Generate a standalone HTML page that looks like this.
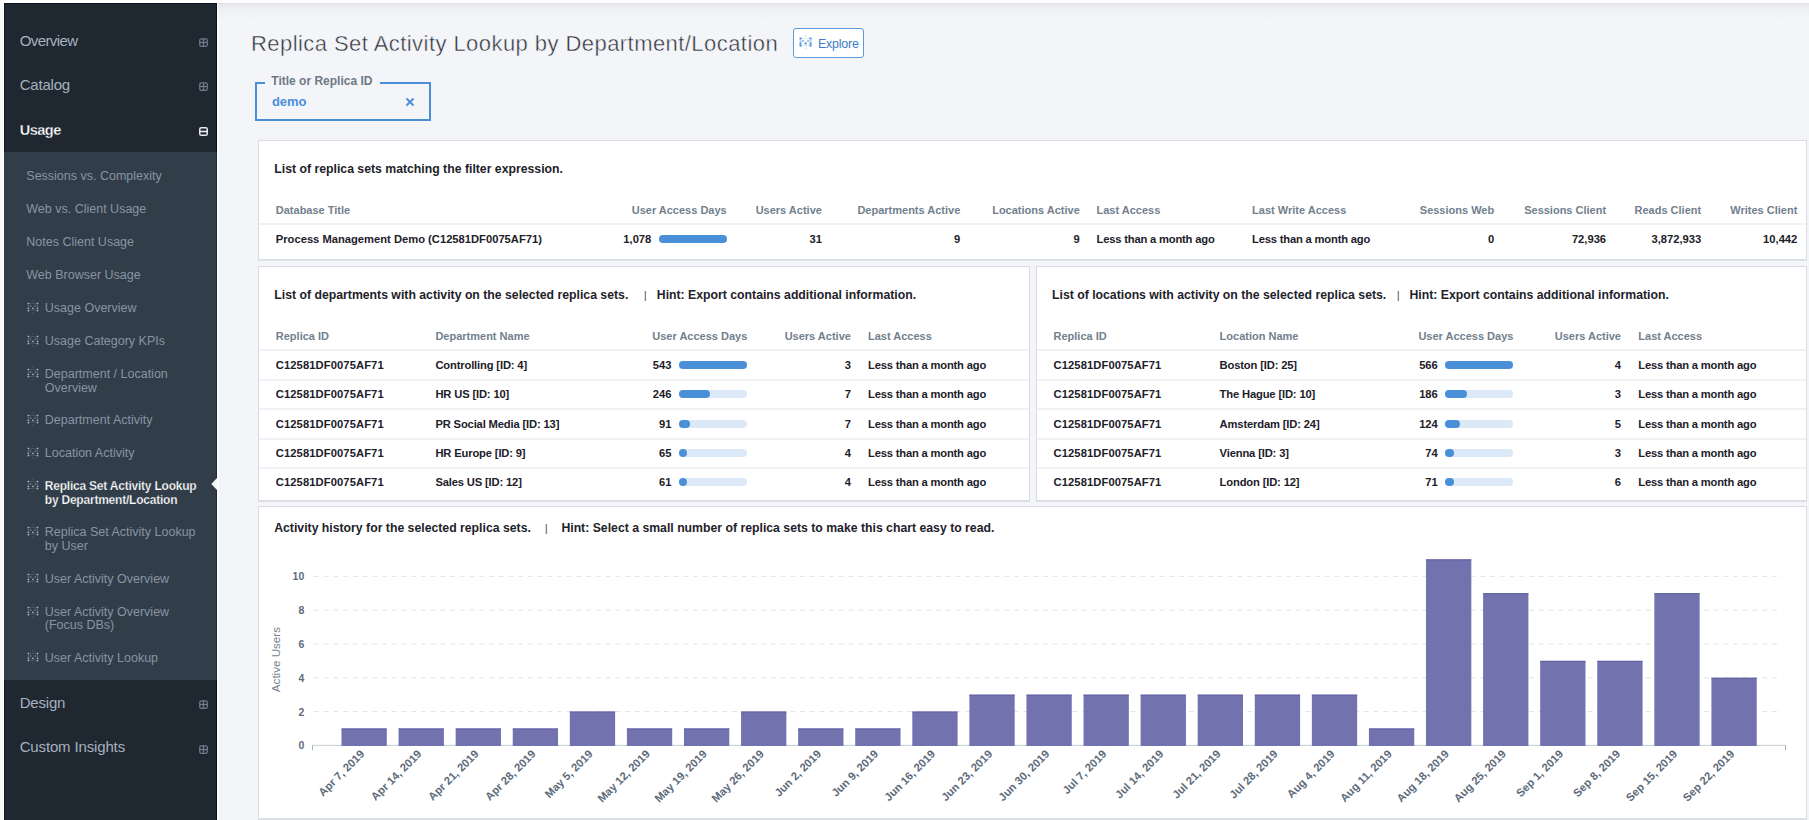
<!DOCTYPE html>
<html><head><meta charset="utf-8"><title>Replica Set Activity Lookup by Department/Location</title>
<style>
html,body{margin:0;padding:0;}
body{width:1809px;height:820px;overflow:hidden;position:relative;background:#fff;font-family:"Liberation Sans", Arial, sans-serif;}
.r{position:absolute;}
.t{position:absolute;white-space:nowrap;}
</style></head><body>
<div class="r" style="left:0px;top:0px;width:3px;height:820px;background:#f9f9f9"></div>
<div class="r" style="left:217px;top:3px;width:1592px;height:817px;background:#f4f5f9"></div>
<div class="r" style="left:217px;top:3px;width:2px;height:817px;background:#fbfcfd"></div>
<div class="r" style="left:218px;top:3px;width:1591px;height:18px;background:linear-gradient(#dcdee1,#e9ebef 12%,#eff1f5 45%,#f4f5f9)"></div>
<div class="r" style="left:4px;top:3px;width:213px;height:817px;background:#1f2731"></div>
<div class="r" style="left:4px;top:3px;width:213px;height:1px;background:#0c1220"></div>
<div class="r" style="left:216px;top:3px;width:1px;height:817px;background:#0b111c"></div>
<div class="r" style="left:4px;top:3px;width:1px;height:817px;background:#151c26"></div>
<div class="r" style="left:4px;top:152px;width:212px;height:528px;background:#323d4a"></div>
<div class="r" style="left:216px;top:152px;width:1px;height:528px;background:#222c38"></div>
<div class="t" style="top:33.00px;font-size:15px;line-height:15px;color:#a6b1be;letter-spacing:-0.6px;left:19.70px;">Overview</div>
<svg class="r" style="left:199px;top:38px" width="9" height="9" viewBox="0 0 9 9"><rect x="0.75" y="0.75" width="7.5" height="7.5" rx="1.6" fill="none" stroke="#6f7c8b" stroke-width="1.25"/><line x1="0.8" y1="4.5" x2="8.2" y2="4.5" stroke="#6f7c8b" stroke-width="1.3"/><line x1="4.5" y1="0.8" x2="4.5" y2="8.2" stroke="#6f7c8b" stroke-width="1.3"/></svg>
<div class="t" style="top:77.00px;font-size:15px;line-height:15px;color:#a6b1be;letter-spacing:-0.2px;left:19.70px;">Catalog</div>
<svg class="r" style="left:199px;top:82px" width="9" height="9" viewBox="0 0 9 9"><rect x="0.75" y="0.75" width="7.5" height="7.5" rx="1.6" fill="none" stroke="#6f7c8b" stroke-width="1.25"/><line x1="0.8" y1="4.5" x2="8.2" y2="4.5" stroke="#6f7c8b" stroke-width="1.3"/><line x1="4.5" y1="0.8" x2="4.5" y2="8.2" stroke="#6f7c8b" stroke-width="1.3"/></svg>
<div class="t" style="top:123.00px;font-size:14.5px;line-height:14.5px;font-weight:700;color:#ffffff;letter-spacing:-0.5px;left:19.70px;-webkit-text-stroke:0.3px #1f2731;">Usage</div>
<svg class="r" style="left:199px;top:127px" width="9" height="9" viewBox="0 0 9 9"><rect x="0.75" y="0.75" width="7.5" height="7.5" rx="1.6" fill="none" stroke="#e8ecf0" stroke-width="1.5"/><line x1="0.8" y1="4.5" x2="8.2" y2="4.5" stroke="#e8ecf0" stroke-width="1.6"/></svg>
<div class="t" style="top:695.00px;font-size:15px;line-height:15px;color:#a6b1be;letter-spacing:-0.2px;left:19.70px;">Design</div>
<svg class="r" style="left:199px;top:700px" width="9" height="9" viewBox="0 0 9 9"><rect x="0.75" y="0.75" width="7.5" height="7.5" rx="1.6" fill="none" stroke="#6f7c8b" stroke-width="1.25"/><line x1="0.8" y1="4.5" x2="8.2" y2="4.5" stroke="#6f7c8b" stroke-width="1.3"/><line x1="4.5" y1="0.8" x2="4.5" y2="8.2" stroke="#6f7c8b" stroke-width="1.3"/></svg>
<div class="t" style="top:739.00px;font-size:15px;line-height:15px;color:#a6b1be;letter-spacing:-0.15px;left:19.70px;">Custom Insights</div>
<svg class="r" style="left:199px;top:745px" width="9" height="9" viewBox="0 0 9 9"><rect x="0.75" y="0.75" width="7.5" height="7.5" rx="1.6" fill="none" stroke="#6f7c8b" stroke-width="1.25"/><line x1="0.8" y1="4.5" x2="8.2" y2="4.5" stroke="#6f7c8b" stroke-width="1.3"/><line x1="4.5" y1="0.8" x2="4.5" y2="8.2" stroke="#6f7c8b" stroke-width="1.3"/></svg>
<div class="t" style="top:170.00px;font-size:12.5px;line-height:12.5px;color:#8794a3;left:26.30px;">Sessions vs. Complexity</div>
<div class="t" style="top:203.00px;font-size:12.5px;line-height:12.5px;color:#8794a3;left:26.30px;">Web vs. Client Usage</div>
<div class="t" style="top:236.00px;font-size:12.5px;line-height:12.5px;color:#8794a3;left:26.30px;">Notes Client Usage</div>
<div class="t" style="top:269.00px;font-size:12.5px;line-height:12.5px;color:#8794a3;left:26.30px;">Web Browser Usage</div>
<div class="t" style="top:302.00px;font-size:12.5px;line-height:12.5px;color:#8794a3;left:44.80px;">Usage Overview</div>
<svg class="r" style="left:27px;top:300px" width="12.0" height="14" viewBox="0 0 12.0 14"><g fill="#a9bbcf"><rect x="0.65" y="2.75" width="1.5" height="1.5" opacity="1"/><rect x="0.65" y="7.65" width="1.5" height="1.5" opacity="1"/><rect x="0.65" y="9.85" width="1.5" height="1.5" opacity="1"/><rect x="0.80" y="5.40" width="1.2" height="1.2" opacity="0.55"/><rect x="9.75" y="2.75" width="1.5" height="1.5" opacity="1"/><rect x="9.75" y="7.65" width="1.5" height="1.5" opacity="1"/><rect x="9.75" y="9.85" width="1.5" height="1.5" opacity="1"/><rect x="9.90" y="5.40" width="1.2" height="1.2" opacity="0.55"/><rect x="2.90" y="5.30" width="1.4" height="1.4" opacity="0.6"/><rect x="7.60" y="5.30" width="1.4" height="1.4" opacity="0.6"/><rect x="5.20" y="7.60" width="1.6" height="1.6" opacity="0.9"/><rect x="5.45" y="0.35" width="1.1" height="1.1" opacity="0.3"/><rect x="5.45" y="12.45" width="1.1" height="1.1" opacity="0.3"/><rect x="2.20" y="3.2" width="7.50" height="0.6" opacity=".3"/><rect x="2.20" y="10.3" width="7.50" height="0.6" opacity=".3"/></g></svg>
<div class="t" style="top:335.00px;font-size:12.5px;line-height:12.5px;color:#8794a3;left:44.80px;">Usage Category KPIs</div>
<svg class="r" style="left:27px;top:333px" width="12.0" height="14" viewBox="0 0 12.0 14"><g fill="#a9bbcf"><rect x="0.65" y="2.75" width="1.5" height="1.5" opacity="1"/><rect x="0.65" y="7.65" width="1.5" height="1.5" opacity="1"/><rect x="0.65" y="9.85" width="1.5" height="1.5" opacity="1"/><rect x="0.80" y="5.40" width="1.2" height="1.2" opacity="0.55"/><rect x="9.75" y="2.75" width="1.5" height="1.5" opacity="1"/><rect x="9.75" y="7.65" width="1.5" height="1.5" opacity="1"/><rect x="9.75" y="9.85" width="1.5" height="1.5" opacity="1"/><rect x="9.90" y="5.40" width="1.2" height="1.2" opacity="0.55"/><rect x="2.90" y="5.30" width="1.4" height="1.4" opacity="0.6"/><rect x="7.60" y="5.30" width="1.4" height="1.4" opacity="0.6"/><rect x="5.20" y="7.60" width="1.6" height="1.6" opacity="0.9"/><rect x="5.45" y="0.35" width="1.1" height="1.1" opacity="0.3"/><rect x="5.45" y="12.45" width="1.1" height="1.1" opacity="0.3"/><rect x="2.20" y="3.2" width="7.50" height="0.6" opacity=".3"/><rect x="2.20" y="10.3" width="7.50" height="0.6" opacity=".3"/></g></svg>
<div class="t" style="top:368.00px;font-size:12.5px;line-height:12.5px;color:#8794a3;left:44.80px;">Department / Location</div>
<div class="t" style="top:382.00px;font-size:12.5px;line-height:12.5px;color:#8794a3;left:44.80px;">Overview</div>
<svg class="r" style="left:27px;top:366px" width="12.0" height="14" viewBox="0 0 12.0 14"><g fill="#a9bbcf"><rect x="0.65" y="2.75" width="1.5" height="1.5" opacity="1"/><rect x="0.65" y="7.65" width="1.5" height="1.5" opacity="1"/><rect x="0.65" y="9.85" width="1.5" height="1.5" opacity="1"/><rect x="0.80" y="5.40" width="1.2" height="1.2" opacity="0.55"/><rect x="9.75" y="2.75" width="1.5" height="1.5" opacity="1"/><rect x="9.75" y="7.65" width="1.5" height="1.5" opacity="1"/><rect x="9.75" y="9.85" width="1.5" height="1.5" opacity="1"/><rect x="9.90" y="5.40" width="1.2" height="1.2" opacity="0.55"/><rect x="2.90" y="5.30" width="1.4" height="1.4" opacity="0.6"/><rect x="7.60" y="5.30" width="1.4" height="1.4" opacity="0.6"/><rect x="5.20" y="7.60" width="1.6" height="1.6" opacity="0.9"/><rect x="5.45" y="0.35" width="1.1" height="1.1" opacity="0.3"/><rect x="5.45" y="12.45" width="1.1" height="1.1" opacity="0.3"/><rect x="2.20" y="3.2" width="7.50" height="0.6" opacity=".3"/><rect x="2.20" y="10.3" width="7.50" height="0.6" opacity=".3"/></g></svg>
<div class="t" style="top:414.00px;font-size:12.5px;line-height:12.5px;color:#8794a3;left:44.80px;">Department Activity</div>
<svg class="r" style="left:27px;top:412px" width="12.0" height="14" viewBox="0 0 12.0 14"><g fill="#a9bbcf"><rect x="0.65" y="2.75" width="1.5" height="1.5" opacity="1"/><rect x="0.65" y="7.65" width="1.5" height="1.5" opacity="1"/><rect x="0.65" y="9.85" width="1.5" height="1.5" opacity="1"/><rect x="0.80" y="5.40" width="1.2" height="1.2" opacity="0.55"/><rect x="9.75" y="2.75" width="1.5" height="1.5" opacity="1"/><rect x="9.75" y="7.65" width="1.5" height="1.5" opacity="1"/><rect x="9.75" y="9.85" width="1.5" height="1.5" opacity="1"/><rect x="9.90" y="5.40" width="1.2" height="1.2" opacity="0.55"/><rect x="2.90" y="5.30" width="1.4" height="1.4" opacity="0.6"/><rect x="7.60" y="5.30" width="1.4" height="1.4" opacity="0.6"/><rect x="5.20" y="7.60" width="1.6" height="1.6" opacity="0.9"/><rect x="5.45" y="0.35" width="1.1" height="1.1" opacity="0.3"/><rect x="5.45" y="12.45" width="1.1" height="1.1" opacity="0.3"/><rect x="2.20" y="3.2" width="7.50" height="0.6" opacity=".3"/><rect x="2.20" y="10.3" width="7.50" height="0.6" opacity=".3"/></g></svg>
<div class="t" style="top:447.00px;font-size:12.5px;line-height:12.5px;color:#8794a3;left:44.80px;">Location Activity</div>
<svg class="r" style="left:27px;top:445px" width="12.0" height="14" viewBox="0 0 12.0 14"><g fill="#a9bbcf"><rect x="0.65" y="2.75" width="1.5" height="1.5" opacity="1"/><rect x="0.65" y="7.65" width="1.5" height="1.5" opacity="1"/><rect x="0.65" y="9.85" width="1.5" height="1.5" opacity="1"/><rect x="0.80" y="5.40" width="1.2" height="1.2" opacity="0.55"/><rect x="9.75" y="2.75" width="1.5" height="1.5" opacity="1"/><rect x="9.75" y="7.65" width="1.5" height="1.5" opacity="1"/><rect x="9.75" y="9.85" width="1.5" height="1.5" opacity="1"/><rect x="9.90" y="5.40" width="1.2" height="1.2" opacity="0.55"/><rect x="2.90" y="5.30" width="1.4" height="1.4" opacity="0.6"/><rect x="7.60" y="5.30" width="1.4" height="1.4" opacity="0.6"/><rect x="5.20" y="7.60" width="1.6" height="1.6" opacity="0.9"/><rect x="5.45" y="0.35" width="1.1" height="1.1" opacity="0.3"/><rect x="5.45" y="12.45" width="1.1" height="1.1" opacity="0.3"/><rect x="2.20" y="3.2" width="7.50" height="0.6" opacity=".3"/><rect x="2.20" y="10.3" width="7.50" height="0.6" opacity=".3"/></g></svg>
<div class="t" style="top:480.00px;font-size:12px;line-height:12px;font-weight:700;color:#ffffff;letter-spacing:-0.22px;left:44.80px;-webkit-text-stroke:0.25px #323d4a;">Replica Set Activity Lookup</div>
<div class="t" style="top:494.00px;font-size:12px;line-height:12px;font-weight:700;color:#ffffff;letter-spacing:-0.22px;left:44.80px;-webkit-text-stroke:0.25px #323d4a;">by Department/Location</div>
<svg class="r" style="left:27px;top:478px" width="12.0" height="14" viewBox="0 0 12.0 14"><g fill="#a9bbcf"><rect x="0.65" y="2.75" width="1.5" height="1.5" opacity="1"/><rect x="0.65" y="7.65" width="1.5" height="1.5" opacity="1"/><rect x="0.65" y="9.85" width="1.5" height="1.5" opacity="1"/><rect x="0.80" y="5.40" width="1.2" height="1.2" opacity="0.55"/><rect x="9.75" y="2.75" width="1.5" height="1.5" opacity="1"/><rect x="9.75" y="7.65" width="1.5" height="1.5" opacity="1"/><rect x="9.75" y="9.85" width="1.5" height="1.5" opacity="1"/><rect x="9.90" y="5.40" width="1.2" height="1.2" opacity="0.55"/><rect x="2.90" y="5.30" width="1.4" height="1.4" opacity="0.6"/><rect x="7.60" y="5.30" width="1.4" height="1.4" opacity="0.6"/><rect x="5.20" y="7.60" width="1.6" height="1.6" opacity="0.9"/><rect x="5.45" y="0.35" width="1.1" height="1.1" opacity="0.3"/><rect x="5.45" y="12.45" width="1.1" height="1.1" opacity="0.3"/><rect x="2.20" y="3.2" width="7.50" height="0.6" opacity=".3"/><rect x="2.20" y="10.3" width="7.50" height="0.6" opacity=".3"/></g></svg>
<div class="t" style="top:526.00px;font-size:12.5px;line-height:12.5px;color:#8794a3;left:44.80px;">Replica Set Activity Lookup</div>
<div class="t" style="top:540.00px;font-size:12.5px;line-height:12.5px;color:#8794a3;left:44.80px;">by User</div>
<svg class="r" style="left:27px;top:524px" width="12.0" height="14" viewBox="0 0 12.0 14"><g fill="#a9bbcf"><rect x="0.65" y="2.75" width="1.5" height="1.5" opacity="1"/><rect x="0.65" y="7.65" width="1.5" height="1.5" opacity="1"/><rect x="0.65" y="9.85" width="1.5" height="1.5" opacity="1"/><rect x="0.80" y="5.40" width="1.2" height="1.2" opacity="0.55"/><rect x="9.75" y="2.75" width="1.5" height="1.5" opacity="1"/><rect x="9.75" y="7.65" width="1.5" height="1.5" opacity="1"/><rect x="9.75" y="9.85" width="1.5" height="1.5" opacity="1"/><rect x="9.90" y="5.40" width="1.2" height="1.2" opacity="0.55"/><rect x="2.90" y="5.30" width="1.4" height="1.4" opacity="0.6"/><rect x="7.60" y="5.30" width="1.4" height="1.4" opacity="0.6"/><rect x="5.20" y="7.60" width="1.6" height="1.6" opacity="0.9"/><rect x="5.45" y="0.35" width="1.1" height="1.1" opacity="0.3"/><rect x="5.45" y="12.45" width="1.1" height="1.1" opacity="0.3"/><rect x="2.20" y="3.2" width="7.50" height="0.6" opacity=".3"/><rect x="2.20" y="10.3" width="7.50" height="0.6" opacity=".3"/></g></svg>
<div class="t" style="top:573.00px;font-size:12.5px;line-height:12.5px;color:#8794a3;left:44.80px;">User Activity Overview</div>
<svg class="r" style="left:27px;top:571px" width="12.0" height="14" viewBox="0 0 12.0 14"><g fill="#a9bbcf"><rect x="0.65" y="2.75" width="1.5" height="1.5" opacity="1"/><rect x="0.65" y="7.65" width="1.5" height="1.5" opacity="1"/><rect x="0.65" y="9.85" width="1.5" height="1.5" opacity="1"/><rect x="0.80" y="5.40" width="1.2" height="1.2" opacity="0.55"/><rect x="9.75" y="2.75" width="1.5" height="1.5" opacity="1"/><rect x="9.75" y="7.65" width="1.5" height="1.5" opacity="1"/><rect x="9.75" y="9.85" width="1.5" height="1.5" opacity="1"/><rect x="9.90" y="5.40" width="1.2" height="1.2" opacity="0.55"/><rect x="2.90" y="5.30" width="1.4" height="1.4" opacity="0.6"/><rect x="7.60" y="5.30" width="1.4" height="1.4" opacity="0.6"/><rect x="5.20" y="7.60" width="1.6" height="1.6" opacity="0.9"/><rect x="5.45" y="0.35" width="1.1" height="1.1" opacity="0.3"/><rect x="5.45" y="12.45" width="1.1" height="1.1" opacity="0.3"/><rect x="2.20" y="3.2" width="7.50" height="0.6" opacity=".3"/><rect x="2.20" y="10.3" width="7.50" height="0.6" opacity=".3"/></g></svg>
<div class="t" style="top:606.00px;font-size:12.5px;line-height:12.5px;color:#8794a3;left:44.80px;">User Activity Overview</div>
<div class="t" style="top:619.00px;font-size:12.5px;line-height:12.5px;color:#8794a3;left:44.80px;">(Focus DBs)</div>
<svg class="r" style="left:27px;top:604px" width="12.0" height="14" viewBox="0 0 12.0 14"><g fill="#a9bbcf"><rect x="0.65" y="2.75" width="1.5" height="1.5" opacity="1"/><rect x="0.65" y="7.65" width="1.5" height="1.5" opacity="1"/><rect x="0.65" y="9.85" width="1.5" height="1.5" opacity="1"/><rect x="0.80" y="5.40" width="1.2" height="1.2" opacity="0.55"/><rect x="9.75" y="2.75" width="1.5" height="1.5" opacity="1"/><rect x="9.75" y="7.65" width="1.5" height="1.5" opacity="1"/><rect x="9.75" y="9.85" width="1.5" height="1.5" opacity="1"/><rect x="9.90" y="5.40" width="1.2" height="1.2" opacity="0.55"/><rect x="2.90" y="5.30" width="1.4" height="1.4" opacity="0.6"/><rect x="7.60" y="5.30" width="1.4" height="1.4" opacity="0.6"/><rect x="5.20" y="7.60" width="1.6" height="1.6" opacity="0.9"/><rect x="5.45" y="0.35" width="1.1" height="1.1" opacity="0.3"/><rect x="5.45" y="12.45" width="1.1" height="1.1" opacity="0.3"/><rect x="2.20" y="3.2" width="7.50" height="0.6" opacity=".3"/><rect x="2.20" y="10.3" width="7.50" height="0.6" opacity=".3"/></g></svg>
<div class="t" style="top:652.00px;font-size:12.5px;line-height:12.5px;color:#8794a3;left:44.80px;">User Activity Lookup</div>
<svg class="r" style="left:27px;top:650px" width="12.0" height="14" viewBox="0 0 12.0 14"><g fill="#a9bbcf"><rect x="0.65" y="2.75" width="1.5" height="1.5" opacity="1"/><rect x="0.65" y="7.65" width="1.5" height="1.5" opacity="1"/><rect x="0.65" y="9.85" width="1.5" height="1.5" opacity="1"/><rect x="0.80" y="5.40" width="1.2" height="1.2" opacity="0.55"/><rect x="9.75" y="2.75" width="1.5" height="1.5" opacity="1"/><rect x="9.75" y="7.65" width="1.5" height="1.5" opacity="1"/><rect x="9.75" y="9.85" width="1.5" height="1.5" opacity="1"/><rect x="9.90" y="5.40" width="1.2" height="1.2" opacity="0.55"/><rect x="2.90" y="5.30" width="1.4" height="1.4" opacity="0.6"/><rect x="7.60" y="5.30" width="1.4" height="1.4" opacity="0.6"/><rect x="5.20" y="7.60" width="1.6" height="1.6" opacity="0.9"/><rect x="5.45" y="0.35" width="1.1" height="1.1" opacity="0.3"/><rect x="5.45" y="12.45" width="1.1" height="1.1" opacity="0.3"/><rect x="2.20" y="3.2" width="7.50" height="0.6" opacity=".3"/><rect x="2.20" y="10.3" width="7.50" height="0.6" opacity=".3"/></g></svg>
<svg class="r" style="left:211px;top:478px" width="6" height="12" viewBox="0 0 6 12"><path d="M6 0 L0.3 6 L6 12 Z" fill="#f7f8fa"/></svg>
<div class="t" style="top:33.00px;font-size:22px;line-height:22px;color:#2e3239;letter-spacing:0.44px;left:251.00px;-webkit-text-stroke:0.45px #f4f5f9;">Replica Set Activity Lookup by Department/Location</div>
<div class="r" style="left:793px;top:28px;width:71px;height:30px;background:#fff;border:1px solid #5e9bd6;border-radius:3px;box-sizing:border-box"></div>
<svg class="r" style="left:799px;top:35px" width="13.2" height="14" viewBox="0 0 13.2 14"><g fill="#4a8fd8"><rect x="0.53" y="2.49" width="2.0250000000000004" height="2.0250000000000004" opacity="1"/><rect x="0.53" y="7.39" width="2.0250000000000004" height="2.0250000000000004" opacity="1"/><rect x="0.53" y="9.59" width="2.0250000000000004" height="2.0250000000000004" opacity="1"/><rect x="0.73" y="5.19" width="1.62" height="1.62" opacity="0.55"/><rect x="10.54" y="2.49" width="2.0250000000000004" height="2.0250000000000004" opacity="1"/><rect x="10.54" y="7.39" width="2.0250000000000004" height="2.0250000000000004" opacity="1"/><rect x="10.54" y="9.59" width="2.0250000000000004" height="2.0250000000000004" opacity="1"/><rect x="10.74" y="5.19" width="1.62" height="1.62" opacity="0.55"/><rect x="3.02" y="5.05" width="1.89" height="1.89" opacity="0.6"/><rect x="8.19" y="5.05" width="1.89" height="1.89" opacity="0.6"/><rect x="5.52" y="7.32" width="2.16" height="2.16" opacity="0.9"/><rect x="5.86" y="0.16" width="1.4850000000000003" height="1.4850000000000003" opacity="0.3"/><rect x="5.86" y="12.26" width="1.4850000000000003" height="1.4850000000000003" opacity="0.3"/><rect x="2.42" y="3.2" width="8.25" height="0.6" opacity=".3"/><rect x="2.42" y="10.3" width="8.25" height="0.6" opacity=".3"/></g></svg>
<div class="t" style="top:38.00px;font-size:12.5px;line-height:12.5px;color:#3a7cc6;letter-spacing:-0.25px;left:818.00px;">Explore</div>
<div class="r" style="left:255px;top:82px;width:176px;height:39px;border:2px solid #4a90d9;box-sizing:border-box"></div>
<div class="r" style="left:265px;top:80px;width:115px;height:5px;background:#f4f5f9"></div>
<div class="t" style="top:75.00px;font-size:12px;line-height:12px;font-weight:700;color:#6f7985;left:271.30px;">Title or Replica ID</div>
<div class="t" style="top:95.00px;font-size:13px;line-height:13px;font-weight:700;color:#4a90d9;letter-spacing:-0.1px;left:272.00px;">demo</div>
<svg class="r" style="left:405px;top:97px" width="10" height="10" viewBox="0 0 10 10"><path d="M1.5 1.5 L8.5 8.5 M8.5 1.5 L1.5 8.5" stroke="#4a90d9" stroke-width="2"/></svg>
<div class="r" style="left:258px;top:140px;width:1549px;height:120px;background:#fff;border:1px solid #d9dde2;box-sizing:border-box;box-shadow:0 1px 0 rgba(200,205,212,0.45)"></div>
<div class="r" style="left:258px;top:266px;width:772px;height:235px;background:#fff;border:1px solid #d9dde2;box-sizing:border-box;box-shadow:0 1px 0 rgba(200,205,212,0.45)"></div>
<div class="r" style="left:1036px;top:266px;width:771px;height:235px;background:#fff;border:1px solid #d9dde2;box-sizing:border-box;box-shadow:0 1px 0 rgba(200,205,212,0.45)"></div>
<div class="r" style="left:258px;top:506px;width:1549px;height:313px;background:#fff;border:1px solid #d9dde2;box-sizing:border-box;box-shadow:0 1px 0 rgba(200,205,212,0.45)"></div>
<div class="t" style="top:163.00px;font-size:12.25px;line-height:12.25px;font-weight:700;color:#1e222a;left:274.30px;">List of replica sets matching the filter expression.</div>
<div class="r" style="left:259px;top:223px;width:1547px;height:2px;background:#f1f2f5"></div>
<div class="t" style="top:205.00px;font-size:11px;line-height:11px;font-weight:700;color:#727f8e;left:275.80px;">Database Title</div>
<div class="t" style="top:205.00px;font-size:11px;line-height:11px;font-weight:700;color:#727f8e;left:-73.30px;width:800px;text-align:right;">User Access Days</div>
<div class="t" style="top:205.00px;font-size:11px;line-height:11px;font-weight:700;color:#727f8e;left:21.90px;width:800px;text-align:right;">Users Active</div>
<div class="t" style="top:205.00px;font-size:11px;line-height:11px;font-weight:700;color:#727f8e;left:160.30px;width:800px;text-align:right;">Departments Active</div>
<div class="t" style="top:205.00px;font-size:11px;line-height:11px;font-weight:700;color:#727f8e;left:279.80px;width:800px;text-align:right;">Locations Active</div>
<div class="t" style="top:205.00px;font-size:11px;line-height:11px;font-weight:700;color:#727f8e;left:1096.50px;">Last Access</div>
<div class="t" style="top:205.00px;font-size:11px;line-height:11px;font-weight:700;color:#727f8e;left:1252.10px;">Last Write Access</div>
<div class="t" style="top:205.00px;font-size:11px;line-height:11px;font-weight:700;color:#727f8e;left:694.20px;width:800px;text-align:right;">Sessions Web</div>
<div class="t" style="top:205.00px;font-size:11px;line-height:11px;font-weight:700;color:#727f8e;left:806.10px;width:800px;text-align:right;">Sessions Client</div>
<div class="t" style="top:205.00px;font-size:11px;line-height:11px;font-weight:700;color:#727f8e;left:901.20px;width:800px;text-align:right;">Reads Client</div>
<div class="t" style="top:205.00px;font-size:11px;line-height:11px;font-weight:700;color:#727f8e;left:997.30px;width:800px;text-align:right;">Writes Client</div>
<div class="t" style="top:234.00px;font-size:11.2px;line-height:11.2px;font-weight:700;color:#1c2029;left:275.80px;">Process Management Demo (C12581DF0075AF71)</div>
<div class="t" style="top:234.00px;font-size:11.2px;line-height:11.2px;font-weight:700;color:#1c2029;left:-148.70px;width:800px;text-align:right;">1,078</div>
<div class="r" style="left:659px;top:235px;width:68px;height:8px;background:#dbe8f6;border-radius:4px"></div>
<div class="r" style="left:659px;top:235px;width:68px;height:8px;background:#4a90d9;border-radius:4px"></div>
<div class="t" style="top:234.00px;font-size:11.2px;line-height:11.2px;font-weight:700;color:#1c2029;left:21.90px;width:800px;text-align:right;">31</div>
<div class="t" style="top:234.00px;font-size:11.2px;line-height:11.2px;font-weight:700;color:#1c2029;left:160.30px;width:800px;text-align:right;">9</div>
<div class="t" style="top:234.00px;font-size:11.2px;line-height:11.2px;font-weight:700;color:#1c2029;left:279.80px;width:800px;text-align:right;">9</div>
<div class="t" style="top:234.00px;font-size:11.2px;line-height:11.2px;font-weight:700;color:#1c2029;letter-spacing:-0.18px;left:1096.50px;">Less than a month ago</div>
<div class="t" style="top:234.00px;font-size:11.2px;line-height:11.2px;font-weight:700;color:#1c2029;letter-spacing:-0.18px;left:1252.10px;">Less than a month ago</div>
<div class="t" style="top:234.00px;font-size:11.2px;line-height:11.2px;font-weight:700;color:#1c2029;left:694.20px;width:800px;text-align:right;">0</div>
<div class="t" style="top:234.00px;font-size:11.2px;line-height:11.2px;font-weight:700;color:#1c2029;left:806.10px;width:800px;text-align:right;">72,936</div>
<div class="t" style="top:234.00px;font-size:11.2px;line-height:11.2px;font-weight:700;color:#1c2029;left:901.20px;width:800px;text-align:right;">3,872,933</div>
<div class="t" style="top:234.00px;font-size:11.2px;line-height:11.2px;font-weight:700;color:#1c2029;left:997.30px;width:800px;text-align:right;">10,442</div>
<div class="t" style="top:289.00px;font-size:12.25px;line-height:12.25px;font-weight:700;color:#1e222a;left:274.30px;">List of departments with activity on the selected replica sets.</div>
<div class="t" style="top:290.00px;font-size:11.5px;line-height:11.5px;color:#4a525c;left:643.80px;">|</div>
<div class="t" style="top:289.00px;font-size:12.25px;line-height:12.25px;font-weight:700;color:#1e222a;left:656.80px;">Hint: Export contains additional information.</div>
<div class="t" style="top:331.00px;font-size:11px;line-height:11px;font-weight:700;color:#727f8e;left:275.80px;">Replica ID</div>
<div class="t" style="top:331.00px;font-size:11px;line-height:11px;font-weight:700;color:#727f8e;left:435.40px;">Department Name</div>
<div class="t" style="top:331.00px;font-size:11px;line-height:11px;font-weight:700;color:#727f8e;left:-52.70px;width:800px;text-align:right;">User Access Days</div>
<div class="t" style="top:331.00px;font-size:11px;line-height:11px;font-weight:700;color:#727f8e;left:50.90px;width:800px;text-align:right;">Users Active</div>
<div class="t" style="top:331.00px;font-size:11px;line-height:11px;font-weight:700;color:#727f8e;left:868.00px;">Last Access</div>
<div class="r" style="left:259px;top:349px;width:770px;height:2px;background:#eff1f4"></div>
<div class="r" style="left:259px;top:379px;width:770px;height:2px;background:#eff1f4"></div>
<div class="r" style="left:259px;top:408px;width:770px;height:2px;background:#eff1f4"></div>
<div class="r" style="left:259px;top:438px;width:770px;height:2px;background:#eff1f4"></div>
<div class="r" style="left:259px;top:467px;width:770px;height:2px;background:#eff1f4"></div>
<div class="t" style="top:360.00px;font-size:11.2px;line-height:11.2px;font-weight:700;color:#1c2029;letter-spacing:0.1px;left:275.80px;">C12581DF0075AF71</div>
<div class="t" style="top:360.00px;font-size:11.2px;line-height:11.2px;font-weight:700;color:#1c2029;letter-spacing:-0.15px;left:435.40px;">Controlling [ID: 4]</div>
<div class="t" style="top:360.00px;font-size:11.2px;line-height:11.2px;font-weight:700;color:#1c2029;left:-128.60px;width:800px;text-align:right;">543</div>
<div class="r" style="left:679px;top:361px;width:68px;height:8px;background:#dbe8f6;border-radius:4px"></div>
<div class="r" style="left:679px;top:361px;width:68px;height:8px;background:#4a90d9;border-radius:4px"></div>
<div class="t" style="top:360.00px;font-size:11.2px;line-height:11.2px;font-weight:700;color:#1c2029;left:50.90px;width:800px;text-align:right;">3</div>
<div class="t" style="top:360.00px;font-size:11.2px;line-height:11.2px;font-weight:700;color:#1c2029;letter-spacing:-0.18px;left:868.00px;">Less than a month ago</div>
<div class="t" style="top:389.00px;font-size:11.2px;line-height:11.2px;font-weight:700;color:#1c2029;letter-spacing:0.1px;left:275.80px;">C12581DF0075AF71</div>
<div class="t" style="top:389.00px;font-size:11.2px;line-height:11.2px;font-weight:700;color:#1c2029;letter-spacing:-0.15px;left:435.40px;">HR US [ID: 10]</div>
<div class="t" style="top:389.00px;font-size:11.2px;line-height:11.2px;font-weight:700;color:#1c2029;left:-128.60px;width:800px;text-align:right;">246</div>
<div class="r" style="left:679px;top:390px;width:68px;height:8px;background:#dbe8f6;border-radius:4px"></div>
<div class="r" style="left:679px;top:390px;width:31px;height:8px;background:#4a90d9;border-radius:4px"></div>
<div class="t" style="top:389.00px;font-size:11.2px;line-height:11.2px;font-weight:700;color:#1c2029;left:50.90px;width:800px;text-align:right;">7</div>
<div class="t" style="top:389.00px;font-size:11.2px;line-height:11.2px;font-weight:700;color:#1c2029;letter-spacing:-0.18px;left:868.00px;">Less than a month ago</div>
<div class="t" style="top:419.00px;font-size:11.2px;line-height:11.2px;font-weight:700;color:#1c2029;letter-spacing:0.1px;left:275.80px;">C12581DF0075AF71</div>
<div class="t" style="top:419.00px;font-size:11.2px;line-height:11.2px;font-weight:700;color:#1c2029;letter-spacing:-0.15px;left:435.40px;">PR Social Media [ID: 13]</div>
<div class="t" style="top:419.00px;font-size:11.2px;line-height:11.2px;font-weight:700;color:#1c2029;left:-128.60px;width:800px;text-align:right;">91</div>
<div class="r" style="left:679px;top:420px;width:68px;height:8px;background:#dbe8f6;border-radius:4px"></div>
<div class="r" style="left:679px;top:420px;width:11px;height:8px;background:#4a90d9;border-radius:4px"></div>
<div class="t" style="top:419.00px;font-size:11.2px;line-height:11.2px;font-weight:700;color:#1c2029;left:50.90px;width:800px;text-align:right;">7</div>
<div class="t" style="top:419.00px;font-size:11.2px;line-height:11.2px;font-weight:700;color:#1c2029;letter-spacing:-0.18px;left:868.00px;">Less than a month ago</div>
<div class="t" style="top:448.00px;font-size:11.2px;line-height:11.2px;font-weight:700;color:#1c2029;letter-spacing:0.1px;left:275.80px;">C12581DF0075AF71</div>
<div class="t" style="top:448.00px;font-size:11.2px;line-height:11.2px;font-weight:700;color:#1c2029;letter-spacing:-0.15px;left:435.40px;">HR Europe [ID: 9]</div>
<div class="t" style="top:448.00px;font-size:11.2px;line-height:11.2px;font-weight:700;color:#1c2029;left:-128.60px;width:800px;text-align:right;">65</div>
<div class="r" style="left:679px;top:449px;width:68px;height:8px;background:#dbe8f6;border-radius:4px"></div>
<div class="r" style="left:679px;top:449px;width:8px;height:8px;background:#4a90d9;border-radius:4px"></div>
<div class="t" style="top:448.00px;font-size:11.2px;line-height:11.2px;font-weight:700;color:#1c2029;left:50.90px;width:800px;text-align:right;">4</div>
<div class="t" style="top:448.00px;font-size:11.2px;line-height:11.2px;font-weight:700;color:#1c2029;letter-spacing:-0.18px;left:868.00px;">Less than a month ago</div>
<div class="t" style="top:477.00px;font-size:11.2px;line-height:11.2px;font-weight:700;color:#1c2029;letter-spacing:0.1px;left:275.80px;">C12581DF0075AF71</div>
<div class="t" style="top:477.00px;font-size:11.2px;line-height:11.2px;font-weight:700;color:#1c2029;letter-spacing:-0.15px;left:435.40px;">Sales US [ID: 12]</div>
<div class="t" style="top:477.00px;font-size:11.2px;line-height:11.2px;font-weight:700;color:#1c2029;left:-128.60px;width:800px;text-align:right;">61</div>
<div class="r" style="left:679px;top:478px;width:68px;height:8px;background:#dbe8f6;border-radius:4px"></div>
<div class="r" style="left:679px;top:478px;width:8px;height:8px;background:#4a90d9;border-radius:4px"></div>
<div class="t" style="top:477.00px;font-size:11.2px;line-height:11.2px;font-weight:700;color:#1c2029;left:50.90px;width:800px;text-align:right;">4</div>
<div class="t" style="top:477.00px;font-size:11.2px;line-height:11.2px;font-weight:700;color:#1c2029;letter-spacing:-0.18px;left:868.00px;">Less than a month ago</div>
<div class="t" style="top:289.00px;font-size:12.25px;line-height:12.25px;font-weight:700;color:#1e222a;left:1052.00px;">List of locations with activity on the selected replica sets.</div>
<div class="t" style="top:290.00px;font-size:11.5px;line-height:11.5px;color:#4a525c;left:1396.80px;">|</div>
<div class="t" style="top:289.00px;font-size:12.25px;line-height:12.25px;font-weight:700;color:#1e222a;left:1409.50px;">Hint: Export contains additional information.</div>
<div class="t" style="top:331.00px;font-size:11px;line-height:11px;font-weight:700;color:#727f8e;left:1053.50px;">Replica ID</div>
<div class="t" style="top:331.00px;font-size:11px;line-height:11px;font-weight:700;color:#727f8e;left:1219.60px;">Location Name</div>
<div class="t" style="top:331.00px;font-size:11px;line-height:11px;font-weight:700;color:#727f8e;left:713.40px;width:800px;text-align:right;">User Access Days</div>
<div class="t" style="top:331.00px;font-size:11px;line-height:11px;font-weight:700;color:#727f8e;left:821.00px;width:800px;text-align:right;">Users Active</div>
<div class="t" style="top:331.00px;font-size:11px;line-height:11px;font-weight:700;color:#727f8e;left:1638.30px;">Last Access</div>
<div class="r" style="left:1037px;top:349px;width:769px;height:2px;background:#eff1f4"></div>
<div class="r" style="left:1037px;top:379px;width:769px;height:2px;background:#eff1f4"></div>
<div class="r" style="left:1037px;top:408px;width:769px;height:2px;background:#eff1f4"></div>
<div class="r" style="left:1037px;top:438px;width:769px;height:2px;background:#eff1f4"></div>
<div class="r" style="left:1037px;top:467px;width:769px;height:2px;background:#eff1f4"></div>
<div class="t" style="top:360.00px;font-size:11.2px;line-height:11.2px;font-weight:700;color:#1c2029;letter-spacing:0.1px;left:1053.50px;">C12581DF0075AF71</div>
<div class="t" style="top:360.00px;font-size:11.2px;line-height:11.2px;font-weight:700;color:#1c2029;letter-spacing:-0.15px;left:1219.60px;">Boston [ID: 25]</div>
<div class="t" style="top:360.00px;font-size:11.2px;line-height:11.2px;font-weight:700;color:#1c2029;left:637.80px;width:800px;text-align:right;">566</div>
<div class="r" style="left:1445px;top:361px;width:68px;height:8px;background:#dbe8f6;border-radius:4px"></div>
<div class="r" style="left:1445px;top:361px;width:68px;height:8px;background:#4a90d9;border-radius:4px"></div>
<div class="t" style="top:360.00px;font-size:11.2px;line-height:11.2px;font-weight:700;color:#1c2029;left:821.00px;width:800px;text-align:right;">4</div>
<div class="t" style="top:360.00px;font-size:11.2px;line-height:11.2px;font-weight:700;color:#1c2029;letter-spacing:-0.18px;left:1638.30px;">Less than a month ago</div>
<div class="t" style="top:389.00px;font-size:11.2px;line-height:11.2px;font-weight:700;color:#1c2029;letter-spacing:0.1px;left:1053.50px;">C12581DF0075AF71</div>
<div class="t" style="top:389.00px;font-size:11.2px;line-height:11.2px;font-weight:700;color:#1c2029;letter-spacing:-0.15px;left:1219.60px;">The Hague [ID: 10]</div>
<div class="t" style="top:389.00px;font-size:11.2px;line-height:11.2px;font-weight:700;color:#1c2029;left:637.80px;width:800px;text-align:right;">186</div>
<div class="r" style="left:1445px;top:390px;width:68px;height:8px;background:#dbe8f6;border-radius:4px"></div>
<div class="r" style="left:1445px;top:390px;width:22px;height:8px;background:#4a90d9;border-radius:4px"></div>
<div class="t" style="top:389.00px;font-size:11.2px;line-height:11.2px;font-weight:700;color:#1c2029;left:821.00px;width:800px;text-align:right;">3</div>
<div class="t" style="top:389.00px;font-size:11.2px;line-height:11.2px;font-weight:700;color:#1c2029;letter-spacing:-0.18px;left:1638.30px;">Less than a month ago</div>
<div class="t" style="top:419.00px;font-size:11.2px;line-height:11.2px;font-weight:700;color:#1c2029;letter-spacing:0.1px;left:1053.50px;">C12581DF0075AF71</div>
<div class="t" style="top:419.00px;font-size:11.2px;line-height:11.2px;font-weight:700;color:#1c2029;letter-spacing:-0.15px;left:1219.60px;">Amsterdam [ID: 24]</div>
<div class="t" style="top:419.00px;font-size:11.2px;line-height:11.2px;font-weight:700;color:#1c2029;left:637.80px;width:800px;text-align:right;">124</div>
<div class="r" style="left:1445px;top:420px;width:68px;height:8px;background:#dbe8f6;border-radius:4px"></div>
<div class="r" style="left:1445px;top:420px;width:15px;height:8px;background:#4a90d9;border-radius:4px"></div>
<div class="t" style="top:419.00px;font-size:11.2px;line-height:11.2px;font-weight:700;color:#1c2029;left:821.00px;width:800px;text-align:right;">5</div>
<div class="t" style="top:419.00px;font-size:11.2px;line-height:11.2px;font-weight:700;color:#1c2029;letter-spacing:-0.18px;left:1638.30px;">Less than a month ago</div>
<div class="t" style="top:448.00px;font-size:11.2px;line-height:11.2px;font-weight:700;color:#1c2029;letter-spacing:0.1px;left:1053.50px;">C12581DF0075AF71</div>
<div class="t" style="top:448.00px;font-size:11.2px;line-height:11.2px;font-weight:700;color:#1c2029;letter-spacing:-0.15px;left:1219.60px;">Vienna [ID: 3]</div>
<div class="t" style="top:448.00px;font-size:11.2px;line-height:11.2px;font-weight:700;color:#1c2029;left:637.80px;width:800px;text-align:right;">74</div>
<div class="r" style="left:1445px;top:449px;width:68px;height:8px;background:#dbe8f6;border-radius:4px"></div>
<div class="r" style="left:1445px;top:449px;width:9px;height:8px;background:#4a90d9;border-radius:4px"></div>
<div class="t" style="top:448.00px;font-size:11.2px;line-height:11.2px;font-weight:700;color:#1c2029;left:821.00px;width:800px;text-align:right;">3</div>
<div class="t" style="top:448.00px;font-size:11.2px;line-height:11.2px;font-weight:700;color:#1c2029;letter-spacing:-0.18px;left:1638.30px;">Less than a month ago</div>
<div class="t" style="top:477.00px;font-size:11.2px;line-height:11.2px;font-weight:700;color:#1c2029;letter-spacing:0.1px;left:1053.50px;">C12581DF0075AF71</div>
<div class="t" style="top:477.00px;font-size:11.2px;line-height:11.2px;font-weight:700;color:#1c2029;letter-spacing:-0.15px;left:1219.60px;">London [ID: 12]</div>
<div class="t" style="top:477.00px;font-size:11.2px;line-height:11.2px;font-weight:700;color:#1c2029;left:637.80px;width:800px;text-align:right;">71</div>
<div class="r" style="left:1445px;top:478px;width:68px;height:8px;background:#dbe8f6;border-radius:4px"></div>
<div class="r" style="left:1445px;top:478px;width:9px;height:8px;background:#4a90d9;border-radius:4px"></div>
<div class="t" style="top:477.00px;font-size:11.2px;line-height:11.2px;font-weight:700;color:#1c2029;left:821.00px;width:800px;text-align:right;">6</div>
<div class="t" style="top:477.00px;font-size:11.2px;line-height:11.2px;font-weight:700;color:#1c2029;letter-spacing:-0.18px;left:1638.30px;">Less than a month ago</div>
<div class="t" style="top:522.00px;font-size:12.25px;line-height:12.25px;font-weight:700;color:#1e222a;left:274.20px;">Activity history for the selected replica sets.</div>
<div class="t" style="top:523.00px;font-size:11.5px;line-height:11.5px;color:#4a525c;left:544.70px;">|</div>
<div class="t" style="top:522.00px;font-size:12.25px;line-height:12.25px;font-weight:700;color:#1e222a;left:561.40px;">Hint: Select a small number of replica sets to make this chart easy to read.</div>
<svg class="r" style="left:0;top:0" width="1809" height="820" viewBox="0 0 1809 820"><line x1="314" y1="711.6" x2="1782" y2="711.6" stroke="#e1e3e6" stroke-width="1" stroke-dasharray="5,4.72"/><line x1="314" y1="677.8" x2="1782" y2="677.8" stroke="#e1e3e6" stroke-width="1" stroke-dasharray="5,4.72"/><line x1="314" y1="643.9" x2="1782" y2="643.9" stroke="#e1e3e6" stroke-width="1" stroke-dasharray="5,4.72"/><line x1="314" y1="610.1" x2="1782" y2="610.1" stroke="#e1e3e6" stroke-width="1" stroke-dasharray="5,4.72"/><line x1="314" y1="576.3" x2="1782" y2="576.3" stroke="#e1e3e6" stroke-width="1" stroke-dasharray="5,4.72"/><text x="304.3" y="749.4" text-anchor="end" font-family='"Liberation Sans", Arial, sans-serif' font-weight="700" font-size="10.5" fill="#5d6b7b">0</text><text x="304.3" y="715.6" text-anchor="end" font-family='"Liberation Sans", Arial, sans-serif' font-weight="700" font-size="10.5" fill="#5d6b7b">2</text><text x="304.3" y="681.8" text-anchor="end" font-family='"Liberation Sans", Arial, sans-serif' font-weight="700" font-size="10.5" fill="#5d6b7b">4</text><text x="304.3" y="647.9" text-anchor="end" font-family='"Liberation Sans", Arial, sans-serif' font-weight="700" font-size="10.5" fill="#5d6b7b">6</text><text x="304.3" y="614.1" text-anchor="end" font-family='"Liberation Sans", Arial, sans-serif' font-weight="700" font-size="10.5" fill="#5d6b7b">8</text><text x="304.3" y="580.3" text-anchor="end" font-family='"Liberation Sans", Arial, sans-serif' font-weight="700" font-size="10.5" fill="#5d6b7b">10</text><line x1="312.5" y1="745.4" x2="1786" y2="745.4" stroke="#cfd5dc" stroke-width="1.2"/><rect x="341.50" y="728.49" width="45.3" height="17.51" fill="#7272ae"/><rect x="341.50" y="728.49" width="45.3" height="1" fill="#6161a3"/><text transform="translate(365.15,754.7) rotate(-45)" text-anchor="end" font-family='"Liberation Sans", Arial, sans-serif' font-weight="700" font-size="11.2" fill="#5d6b7b">Apr 7, 2019</text><rect x="398.58" y="728.49" width="45.3" height="17.51" fill="#7272ae"/><rect x="398.58" y="728.49" width="45.3" height="1" fill="#6161a3"/><text transform="translate(422.23,754.7) rotate(-45)" text-anchor="end" font-family='"Liberation Sans", Arial, sans-serif' font-weight="700" font-size="11.2" fill="#5d6b7b">Apr 14, 2019</text><rect x="455.66" y="728.49" width="45.3" height="17.51" fill="#7272ae"/><rect x="455.66" y="728.49" width="45.3" height="1" fill="#6161a3"/><text transform="translate(479.31,754.7) rotate(-45)" text-anchor="end" font-family='"Liberation Sans", Arial, sans-serif' font-weight="700" font-size="11.2" fill="#5d6b7b">Apr 21, 2019</text><rect x="512.74" y="728.49" width="45.3" height="17.51" fill="#7272ae"/><rect x="512.74" y="728.49" width="45.3" height="1" fill="#6161a3"/><text transform="translate(536.39,754.7) rotate(-45)" text-anchor="end" font-family='"Liberation Sans", Arial, sans-serif' font-weight="700" font-size="11.2" fill="#5d6b7b">Apr 28, 2019</text><rect x="569.82" y="711.58" width="45.3" height="34.42" fill="#7272ae"/><rect x="569.82" y="711.58" width="45.3" height="1" fill="#6161a3"/><text transform="translate(593.47,754.7) rotate(-45)" text-anchor="end" font-family='"Liberation Sans", Arial, sans-serif' font-weight="700" font-size="11.2" fill="#5d6b7b">May 5, 2019</text><rect x="626.90" y="728.49" width="45.3" height="17.51" fill="#7272ae"/><rect x="626.90" y="728.49" width="45.3" height="1" fill="#6161a3"/><text transform="translate(650.55,754.7) rotate(-45)" text-anchor="end" font-family='"Liberation Sans", Arial, sans-serif' font-weight="700" font-size="11.2" fill="#5d6b7b">May 12, 2019</text><rect x="683.98" y="728.49" width="45.3" height="17.51" fill="#7272ae"/><rect x="683.98" y="728.49" width="45.3" height="1" fill="#6161a3"/><text transform="translate(707.63,754.7) rotate(-45)" text-anchor="end" font-family='"Liberation Sans", Arial, sans-serif' font-weight="700" font-size="11.2" fill="#5d6b7b">May 19, 2019</text><rect x="741.06" y="711.58" width="45.3" height="34.42" fill="#7272ae"/><rect x="741.06" y="711.58" width="45.3" height="1" fill="#6161a3"/><text transform="translate(764.71,754.7) rotate(-45)" text-anchor="end" font-family='"Liberation Sans", Arial, sans-serif' font-weight="700" font-size="11.2" fill="#5d6b7b">May 26, 2019</text><rect x="798.14" y="728.49" width="45.3" height="17.51" fill="#7272ae"/><rect x="798.14" y="728.49" width="45.3" height="1" fill="#6161a3"/><text transform="translate(821.79,754.7) rotate(-45)" text-anchor="end" font-family='"Liberation Sans", Arial, sans-serif' font-weight="700" font-size="11.2" fill="#5d6b7b">Jun 2, 2019</text><rect x="855.22" y="728.49" width="45.3" height="17.51" fill="#7272ae"/><rect x="855.22" y="728.49" width="45.3" height="1" fill="#6161a3"/><text transform="translate(878.87,754.7) rotate(-45)" text-anchor="end" font-family='"Liberation Sans", Arial, sans-serif' font-weight="700" font-size="11.2" fill="#5d6b7b">Jun 9, 2019</text><rect x="912.30" y="711.58" width="45.3" height="34.42" fill="#7272ae"/><rect x="912.30" y="711.58" width="45.3" height="1" fill="#6161a3"/><text transform="translate(935.95,754.7) rotate(-45)" text-anchor="end" font-family='"Liberation Sans", Arial, sans-serif' font-weight="700" font-size="11.2" fill="#5d6b7b">Jun 16, 2019</text><rect x="969.38" y="694.67" width="45.3" height="51.33" fill="#7272ae"/><rect x="969.38" y="694.67" width="45.3" height="1" fill="#6161a3"/><text transform="translate(993.03,754.7) rotate(-45)" text-anchor="end" font-family='"Liberation Sans", Arial, sans-serif' font-weight="700" font-size="11.2" fill="#5d6b7b">Jun 23, 2019</text><rect x="1026.46" y="694.67" width="45.3" height="51.33" fill="#7272ae"/><rect x="1026.46" y="694.67" width="45.3" height="1" fill="#6161a3"/><text transform="translate(1050.11,754.7) rotate(-45)" text-anchor="end" font-family='"Liberation Sans", Arial, sans-serif' font-weight="700" font-size="11.2" fill="#5d6b7b">Jun 30, 2019</text><rect x="1083.54" y="694.67" width="45.3" height="51.33" fill="#7272ae"/><rect x="1083.54" y="694.67" width="45.3" height="1" fill="#6161a3"/><text transform="translate(1107.19,754.7) rotate(-45)" text-anchor="end" font-family='"Liberation Sans", Arial, sans-serif' font-weight="700" font-size="11.2" fill="#5d6b7b">Jul 7, 2019</text><rect x="1140.62" y="694.67" width="45.3" height="51.33" fill="#7272ae"/><rect x="1140.62" y="694.67" width="45.3" height="1" fill="#6161a3"/><text transform="translate(1164.27,754.7) rotate(-45)" text-anchor="end" font-family='"Liberation Sans", Arial, sans-serif' font-weight="700" font-size="11.2" fill="#5d6b7b">Jul 14, 2019</text><rect x="1197.70" y="694.67" width="45.3" height="51.33" fill="#7272ae"/><rect x="1197.70" y="694.67" width="45.3" height="1" fill="#6161a3"/><text transform="translate(1221.35,754.7) rotate(-45)" text-anchor="end" font-family='"Liberation Sans", Arial, sans-serif' font-weight="700" font-size="11.2" fill="#5d6b7b">Jul 21, 2019</text><rect x="1254.78" y="694.67" width="45.3" height="51.33" fill="#7272ae"/><rect x="1254.78" y="694.67" width="45.3" height="1" fill="#6161a3"/><text transform="translate(1278.43,754.7) rotate(-45)" text-anchor="end" font-family='"Liberation Sans", Arial, sans-serif' font-weight="700" font-size="11.2" fill="#5d6b7b">Jul 28, 2019</text><rect x="1311.86" y="694.67" width="45.3" height="51.33" fill="#7272ae"/><rect x="1311.86" y="694.67" width="45.3" height="1" fill="#6161a3"/><text transform="translate(1335.51,754.7) rotate(-45)" text-anchor="end" font-family='"Liberation Sans", Arial, sans-serif' font-weight="700" font-size="11.2" fill="#5d6b7b">Aug 4, 2019</text><rect x="1368.94" y="728.49" width="45.3" height="17.51" fill="#7272ae"/><rect x="1368.94" y="728.49" width="45.3" height="1" fill="#6161a3"/><text transform="translate(1392.59,754.7) rotate(-45)" text-anchor="end" font-family='"Liberation Sans", Arial, sans-serif' font-weight="700" font-size="11.2" fill="#5d6b7b">Aug 11, 2019</text><rect x="1426.02" y="559.39" width="45.3" height="186.61" fill="#7272ae"/><rect x="1426.02" y="559.39" width="45.3" height="1" fill="#6161a3"/><text transform="translate(1449.67,754.7) rotate(-45)" text-anchor="end" font-family='"Liberation Sans", Arial, sans-serif' font-weight="700" font-size="11.2" fill="#5d6b7b">Aug 18, 2019</text><rect x="1483.10" y="593.21" width="45.3" height="152.79" fill="#7272ae"/><rect x="1483.10" y="593.21" width="45.3" height="1" fill="#6161a3"/><text transform="translate(1506.75,754.7) rotate(-45)" text-anchor="end" font-family='"Liberation Sans", Arial, sans-serif' font-weight="700" font-size="11.2" fill="#5d6b7b">Aug 25, 2019</text><rect x="1540.18" y="660.85" width="45.3" height="85.15" fill="#7272ae"/><rect x="1540.18" y="660.85" width="45.3" height="1" fill="#6161a3"/><text transform="translate(1563.83,754.7) rotate(-45)" text-anchor="end" font-family='"Liberation Sans", Arial, sans-serif' font-weight="700" font-size="11.2" fill="#5d6b7b">Sep 1, 2019</text><rect x="1597.26" y="660.85" width="45.3" height="85.15" fill="#7272ae"/><rect x="1597.26" y="660.85" width="45.3" height="1" fill="#6161a3"/><text transform="translate(1620.91,754.7) rotate(-45)" text-anchor="end" font-family='"Liberation Sans", Arial, sans-serif' font-weight="700" font-size="11.2" fill="#5d6b7b">Sep 8, 2019</text><rect x="1654.34" y="593.21" width="45.3" height="152.79" fill="#7272ae"/><rect x="1654.34" y="593.21" width="45.3" height="1" fill="#6161a3"/><text transform="translate(1677.99,754.7) rotate(-45)" text-anchor="end" font-family='"Liberation Sans", Arial, sans-serif' font-weight="700" font-size="11.2" fill="#5d6b7b">Sep 15, 2019</text><rect x="1711.42" y="677.76" width="45.3" height="68.24" fill="#7272ae"/><rect x="1711.42" y="677.76" width="45.3" height="1" fill="#6161a3"/><text transform="translate(1735.07,754.7) rotate(-45)" text-anchor="end" font-family='"Liberation Sans", Arial, sans-serif' font-weight="700" font-size="11.2" fill="#5d6b7b">Sep 22, 2019</text><line x1="312.5" y1="745.4" x2="312.5" y2="750.4" stroke="#aab2bc" stroke-width="1"/><line x1="1785.5" y1="745.4" x2="1785.5" y2="750.4" stroke="#aab2bc" stroke-width="1"/><text transform="translate(280.1,659.6) rotate(-90)" text-anchor="middle" font-family='"Liberation Sans", Arial, sans-serif' font-size="11.6" fill="#77838f">Active Users</text></svg>
</body></html>
